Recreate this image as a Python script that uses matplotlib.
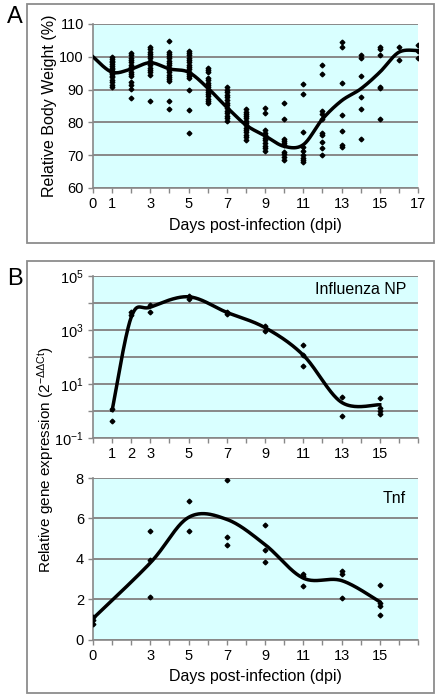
import numpy as np
import matplotlib
matplotlib.use('Agg')
import matplotlib.pyplot as plt
from matplotlib.patches import Rectangle
from matplotlib.ticker import FixedLocator, FuncFormatter, LogLocator, NullFormatter

plt.rcParams['font.family'] = ['Liberation Sans', 'DejaVu Sans']
plt.rcParams['mathtext.default'] = 'regular'

# --- Panel A: relative body weight (%) per mouse, by day ---
wt_days = list(range(1, 18))
wt_values = [
    [99.8, 99.3, 98.8, 98.3, 97.8, 97.3, 96.7, 96.2, 95.7, 95.2, 94.7, 94.2, 93.7, 92.9, 92.2, 91.5, 90.7],
    [101.1, 100.4, 99.7, 99.0, 98.3, 97.6, 96.9, 96.2, 95.5, 94.8, 94.2, 92.2, 91.4, 90.3, 87.3],
    [103.0, 102.3, 101.6, 100.9, 100.2, 99.5, 98.8, 98.1, 97.4, 96.7, 96.0, 95.3, 94.6, 86.6],
    [104.7, 101.6, 100.9, 100.2, 99.5, 98.8, 98.1, 97.4, 96.7, 96.0, 95.3, 94.6, 93.9, 93.2, 92.7, 86.6, 84.0],
    [101.8, 101.1, 100.4, 99.7, 99.0, 98.3, 97.6, 96.9, 96.2, 95.5, 94.8, 94.1, 93.5, 89.9, 83.7, 76.8],
    [96.7, 96.0, 95.3, 93.5, 92.8, 92.1, 91.4, 90.7, 90.0, 89.3, 88.6, 87.9, 87.2, 86.5, 85.8],
    [90.8, 90.0, 89.2, 88.4, 87.6, 86.8, 86.0, 85.2, 84.4, 83.6, 82.8, 82.0, 81.2, 80.5],
    [84.0, 83.3, 82.6, 81.9, 81.2, 80.5, 79.8, 79.1, 78.4, 77.7, 77.0, 76.3, 75.5, 74.6],
    [84.4, 82.9, 77.7, 76.9, 76.1, 75.3, 74.5, 73.7, 72.9, 72.1, 71.3],
    [85.9, 80.9, 74.9, 74.3, 73.7, 73.0, 71.0, 70.3, 69.6, 68.6],
    [91.6, 88.6, 77.1, 72.4, 71.2, 70.2, 69.2, 68.5, 67.9],
    [97.6, 94.7, 83.5, 82.5, 81.0, 76.7, 76.2, 74.0, 72.2, 70.2],
    [104.4, 102.9, 92.1, 82.2, 77.5, 73.2, 72.5],
    [100.6, 99.6, 94.2, 87.6, 84.2, 74.9],
    [103.1, 102.4, 100.5, 90.9, 90.4, 81.1],
    [102.9, 99.0],
    [103.7, 101.8, 99.5],
]
wt_curve_days = list(range(0, 18))
wt_curve = [100, 95.3, 96.3, 98.2, 96.3, 95.3, 90.5, 84.6, 79.2, 75.9,
            72.7, 73.2, 81.0, 86.6, 90.2, 95.3, 101.4, 101.9]
wt_xlabels = [0, 1, 3, 5, 7, 9, 11, 13, 15, 17]

# --- Panel B top: Influenza NP expression ---
np_days = [1, 2, 3, 5, 7, 9, 11, 13, 15]
np_values = [
    [1.2, 0.42],
    [4800, 3500],
    [8300, 4800],
    [18000, 14000],
    [4800, 3850],
    [1400, 940],
    [275, 117, 48],
    [3.2, 0.66],
    [3.0, 1.3, 1.0, 0.76],
]
np_curve = [1.05, 3000, 7000, 17000, 4500, 1220, 117, 2.1, 1.7]
np_xlabels = [1, 2, 3, 5, 7, 9, 11, 13, 15]

# --- Panel B bottom: Tnf expression ---
tnf_days = [0, 3, 5, 7, 9, 11, 13, 15]
tnf_values = [
    [1.09, 0.99, 0.79],
    [5.39, 3.94, 2.09],
    [6.88, 5.35],
    [7.88, 5.1, 4.7],
    [5.69, 4.41, 3.86],
    [3.25, 3.15, 2.65],
    [3.4, 3.25, 2.04],
    [2.7, 1.82, 1.67, 1.21],
]
tnf_curve = [1.04, 3.8, 6.05, 5.95, 4.7, 3.04, 2.92, 1.87]
tnf_xlabels = [0, 3, 5, 7, 9, 11, 13, 15]

BG = '#d9ffff'
GRID = '#888888'


def smooth(xs, ys, n=40):
    """Excel-style smoothed line (Bezier through points)"""
    p = np.column_stack([xs, ys]).astype(float)
    p = np.vstack([p[0], p, p[-1]])
    t = np.linspace(0, 1, n)[:, None]
    out = []
    for i in range(1, len(p) - 2):
        p0, p1, p2, p3 = p[i - 1], p[i], p[i + 1], p[i + 2]
        c1 = p1 + (p2 - p0) / 6
        c2 = p2 - (p3 - p1) / 6
        out.append((1 - t) ** 3 * p1 + 3 * (1 - t) ** 2 * t * c1
                   + 3 * (1 - t) * t ** 2 * c2 + t ** 3 * p2)
    seg = np.vstack(out)
    return seg[:, 0], seg[:, 1]


def style(ax, xlabels):
    ax.set_facecolor(BG)
    for s in ['top', 'right']:
        ax.spines[s].set_visible(False)
    for s in ['left', 'bottom']:
        ax.spines[s].set_color(GRID)
        ax.spines[s].set_linewidth(1.2)
    ax.set_xlim(0, 17)
    ax.xaxis.set_major_locator(FixedLocator(range(0, 18)))
    ax.xaxis.set_major_formatter(FuncFormatter(
        lambda v, pos: str(int(round(v))) if int(round(v)) in xlabels else ''))
    ax.tick_params(axis='both', which='major', length=3.5, width=1, color=GRID,
                   labelsize=10.5, pad=3)
    ax.yaxis.grid(True, color=GRID, linewidth=1.4)
    ax.set_axisbelow(True)


def scatter(ax, days, values):
    xs = [d for d, vals in zip(days, values) for _ in vals]
    ys = [v for vals in values for v in vals]
    ax.plot(xs, ys, 'D', color='black', markersize=2.4, linestyle='none', zorder=3)


fig = plt.figure(figsize=(4.39, 6.99), dpi=100)

# Panel frames
for y0, y1 in [(4, 243), (261, 693)]:
    fig.add_artist(Rectangle((27 / 439, 1 - y1 / 699), 407 / 439, (y1 - y0) / 699,
                             transform=fig.transFigure, fill=False,
                             edgecolor='#8c8c8c', linewidth=1.3))

# Panel A
axA = fig.add_axes([93 / 439, 1 - 188 / 699, 325 / 439, 164 / 699])
style(axA, wt_xlabels)
axA.set_ylim(60, 110)
axA.set_yticks(range(60, 111, 10))
scatter(axA, wt_days, wt_values)
cx, cy = smooth(wt_curve_days, wt_curve)
axA.plot(cx, cy, color='black', linewidth=2.5, zorder=4)
axA.set_xlabel('Days post-infection (dpi)', fontsize=11.5, labelpad=5)
axA.set_ylabel('Relative Body Weight (%)', fontsize=11.5)
axA.yaxis.set_label_coords(-0.112, 0.5)

# Panel B top
axB1 = fig.add_axes([93 / 439, 1 - 438 / 699, 325 / 439, 162 / 699])
style(axB1, np_xlabels)
axB1.set_yscale('log')
axB1.set_ylim(0.1, 1e5)
axB1.yaxis.set_major_locator(FixedLocator([10.0 ** k for k in range(-1, 6)]))
axB1.yaxis.set_major_formatter(FuncFormatter(
    lambda v, pos: r'10$^{%d}$' % round(np.log10(v)) if round(np.log10(v)) % 2 else ''))
axB1.yaxis.set_minor_locator(LogLocator(base=10, subs=np.arange(2, 10)))
axB1.yaxis.set_minor_formatter(NullFormatter())
axB1.tick_params(axis='y', which='minor', length=2, color=GRID)
scatter(axB1, np_days, np_values)
cx, cy = smooth(np_days, np.log10(np_curve))
axB1.plot(cx, 10 ** cy, color='black', linewidth=2.5, zorder=4)
axB1.text(0.963, 0.914, 'Influenza NP', transform=axB1.transAxes,
          ha='right', va='center', fontsize=11.5)

# Panel B bottom
axB2 = fig.add_axes([93 / 439, 1 - 639.5 / 699, 325 / 439, 161.5 / 699])
style(axB2, tnf_xlabels)
axB2.set_ylim(0, 8)
axB2.set_yticks(range(0, 9, 2))
scatter(axB2, tnf_days, tnf_values)
cx, cy = smooth(tnf_days, tnf_curve)
axB2.plot(cx, cy, color='black', linewidth=2.5, zorder=4)
axB2.text(0.963, 0.876, 'Tnf', transform=axB2.transAxes,
          ha='right', va='center', fontsize=11.5)
axB2.set_xlabel('Days post-infection (dpi)', fontsize=11.5, labelpad=5)

fig.text(46 / 439, 1 - 460 / 699, 'Relative gene expression (2$^{-ΔΔCt}$)',
         rotation=90, ha='center', va='center', fontsize=11)

fig.text(15 / 439, 1 - 17 / 699, 'A', ha='center', va='center', fontsize=17)
fig.text(15 / 439, 1 - 279 / 699, 'B', ha='center', va='center', fontsize=17)

fig.savefig('out.png', dpi=100)
